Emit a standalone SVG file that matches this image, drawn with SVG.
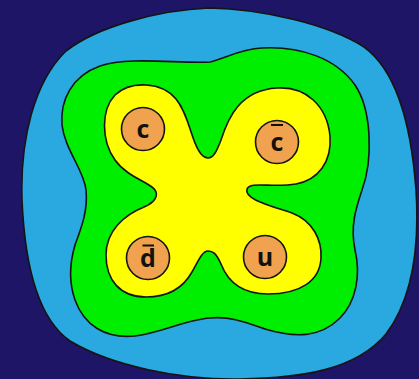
<svg xmlns="http://www.w3.org/2000/svg" width="419" height="379" viewBox="0 0 419 379">
<style>
.region{stroke:#141414;stroke-width:1.6;stroke-linejoin:round}
.quark circle{fill:#F0A24E;stroke:#141414;stroke-width:1.6}
.quark text{font-family:"Open Sans","DejaVu Sans",sans-serif;font-weight:700;font-size:25px;fill:#111;text-anchor:middle}
.bar{stroke:#111;stroke-width:2}
</style>
<rect width="419" height="379" fill="#1E1566"/>
<g id="outer">
<path class="region" fill="#2AA8E0" d="M 209,8 C 262,9 328,24 364,47 C 396,70 411,122 416,190 C 420,252 410,302 386,334 C 356,370 302,378 240,379 C 180,380 112,366 70,341 C 40,320 25,270 22,200 C 20,140 34,82 66,51 C 98,26 160,10 209,8 Z"/>
</g>
<g id="middle">
<path class="region" fill="#00EE00" d="M 210,62 C 226,58 240,49 262,48 C 300,46 336,58 355,85 C 372,110 373,160 362,190 C 356,208 350,226 355,250 C 361,275 356,302 340,318 C 320,338 295,338 265,329 C 245,322 230,316 210,318 C 185,320 160,333 135,336 C 105,339 84,325 75,300 C 68,280 70,262 75,245 C 82,226 88,210 86,190 C 84,170 65,150 62,125 C 60,100 72,76 100,66 C 130,56 180,64 210,62 Z"/>
</g>
<g id="inner">
<path class="region" fill="#FFFF00" d="M 208,158 C 214,158 217,150 221,140 C 228,118 240,90 277,88 C 306,86 327,106 330,136 C 332,162 318,180 296,184 C 272,188 250,181 247,189 C 244,199 268,205 292,213 C 313,221 322,240 321,258 C 320,281 300,294 268,294 C 242,294 228,282 221,264 C 216,253 213,251 208,251 C 202,251 198,262 192,272 C 182,290 166,297 146,297 C 120,297 106,280 106,255 C 106,231 124,215 144,207 C 154,203 159,196 155,190 C 150,182 128,178 115,160 C 101,140 101,110 115,95 C 131,80 162,82 176,99 C 186,111 189,128 195,143 C 199,153 203,158 208,158 Z"/>
</g>
<g id="quark-c" class="quark">
<circle cx="143" cy="129" r="21.5"/>
<text x="143" y="138">c</text>
</g>
<g id="quark-cbar" class="quark">
<circle cx="277" cy="142" r="21.5"/>
<text x="277" y="151">c</text>
<line class="bar" x1="271" y1="125" x2="283" y2="125"/>
</g>
<g id="quark-dbar" class="quark">
<circle cx="148" cy="258" r="21.5"/>
<text x="148" y="267">d</text>
<line class="bar" x1="142.5" y1="245.5" x2="154" y2="245.5"/>
</g>
<g id="quark-u" class="quark">
<circle cx="265" cy="257" r="21.5"/>
<text x="265" y="266">u</text>
</g>
</svg>
